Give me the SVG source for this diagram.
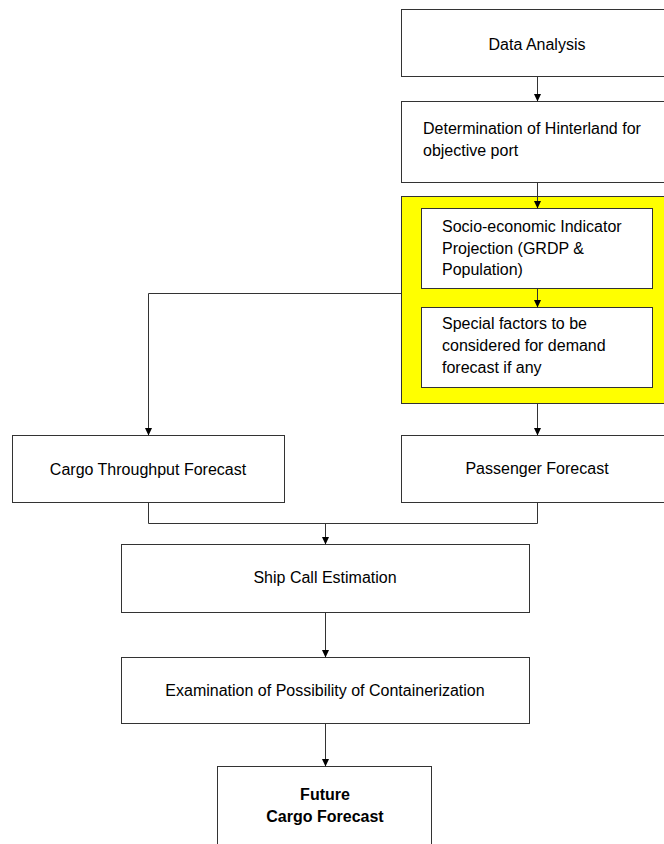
<svg xmlns="http://www.w3.org/2000/svg" width="664" height="844" viewBox="0 0 664 844">
<defs>
<marker id="ah" markerWidth="8" markerHeight="8" refX="7" refY="3.5" orient="auto" markerUnits="userSpaceOnUse">
<path d="M0,0 L7.5,3.5 L0,7 Z" fill="#000"/>
</marker>
<style>
.box{fill:#fff;stroke:#333;stroke-width:1}
.yel{fill:#ffff00;stroke:#333;stroke-width:1}
.t{font-family:"Liberation Sans",Arial,sans-serif;font-size:16px;fill:#000}
.c{text-anchor:middle}
.b{font-weight:bold}
.ln{fill:none;stroke:#333;stroke-width:1}
.ar{fill:none;stroke:#333;stroke-width:1;marker-end:url(#ah)}
</style>
</defs>
<rect width="664" height="844" fill="#fff"/>
<g id="data-analysis">
<rect class="box" x="401.5" y="9.5" width="272" height="67"/>
<text class="t c" x="537" y="50">Data Analysis</text>
</g>
<g id="hinterland">
<rect class="box" x="401.5" y="101.5" width="272" height="81"/>
<text class="t" x="423" y="134">Determination of Hinterland for</text>
<text class="t" x="423" y="156">objective port</text>
</g>
<g id="yellow-group">
<rect class="yel" x="401.5" y="196.5" width="272" height="207"/>
</g>
<g id="socio-economic">
<rect class="box" x="421.5" y="208.5" width="231" height="80"/>
<text class="t" x="442" y="232">Socio-economic Indicator</text>
<text class="t" x="442" y="253.5">Projection (GRDP &amp;</text>
<text class="t" x="442" y="275">Population)</text>
</g>
<g id="special-factors">
<rect class="box" x="421.5" y="307.5" width="231" height="80"/>
<text class="t" x="442" y="329">Special factors to be</text>
<text class="t" x="442" y="351">considered for demand</text>
<text class="t" x="442" y="373">forecast if any</text>
</g>
<g id="cargo-throughput">
<rect class="box" x="12.5" y="435.5" width="272" height="67"/>
<text class="t c" x="148" y="475">Cargo Throughput Forecast</text>
</g>
<g id="passenger">
<rect class="box" x="401.5" y="435.5" width="272" height="67"/>
<text class="t c" x="537" y="474">Passenger Forecast</text>
</g>
<g id="ship-call">
<rect class="box" x="121.5" y="544.5" width="408" height="68"/>
<text class="t c" x="325" y="583">Ship Call Estimation</text>
</g>
<g id="containerization">
<rect class="box" x="121.5" y="657.5" width="408" height="66"/>
<text class="t c" x="325" y="696">Examination of Possibility of Containerization</text>
</g>
<g id="future-cargo">
<rect class="box" x="217.5" y="766.5" width="214" height="100"/>
<text class="t c b" x="325" y="800">Future</text>
<text class="t c b" x="325" y="822">Cargo Forecast</text>
</g>
<g id="connectors">
<path class="ar" d="M537.5,76 V101"/>
<path class="ar" d="M537.5,182 V208"/>
<path class="ar" d="M537.5,288 V307"/>
<path class="ar" d="M401,293.5 H148.5 V435"/>
<path class="ar" d="M537.5,403 V435"/>
<path class="ln" d="M148.5,503 V523.5 H537.5 V503"/>
<path class="ar" d="M325.5,523 V544"/>
<path class="ar" d="M325.5,612 V657"/>
<path class="ar" d="M325.5,723 V766"/>
</g>
</svg>
